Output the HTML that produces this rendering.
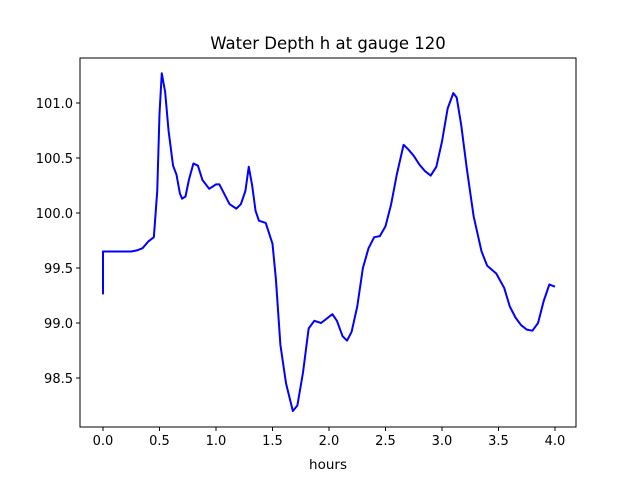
<!DOCTYPE html>
<html><head><meta charset="utf-8"><style>
body{margin:0;background:#fff;font-family:"DejaVu Sans","Liberation Sans",sans-serif;}
svg text{font-family:"DejaVu Sans","Liberation Sans",sans-serif;}
</style></head><body>
<svg id="chart" width="640" height="480" xmlns="http://www.w3.org/2000/svg">
<rect width="640" height="480" fill="#fff"/>
<text x="328" y="49" text-anchor="middle" font-size="16.5">Water Depth h at gauge 120</text>
<g id="plot"></g>
<text x="328" y="469" text-anchor="middle" font-size="13.5">hours</text>
</svg>
<script>
const hours=[0,0,0.1,0.2,0.25,0.3,0.35,0.4,0.45,0.48,0.5,0.52,0.55,0.58,0.62,0.65,0.68,0.7,0.73,0.76,0.8,0.84,0.88,0.94,1.0,1.03,1.07,1.12,1.18,1.22,1.26,1.29,1.32,1.35,1.38,1.44,1.5,1.53,1.57,1.62,1.68,1.72,1.77,1.82,1.87,1.93,2.03,2.07,2.12,2.16,2.2,2.25,2.3,2.35,2.4,2.45,2.5,2.55,2.6,2.66,2.7,2.75,2.8,2.85,2.9,2.95,3.0,3.05,3.1,3.13,3.17,3.22,3.28,3.35,3.4,3.48,3.55,3.6,3.65,3.7,3.75,3.8,3.85,3.9,3.95,4.0];
const depth=[99.26,99.65,99.65,99.65,99.65,99.66,99.68,99.74,99.78,100.2,100.9,101.27,101.1,100.75,100.43,100.35,100.18,100.13,100.15,100.3,100.45,100.43,100.3,100.22,100.26,100.26,100.18,100.08,100.04,100.08,100.2,100.42,100.25,100.02,99.93,99.91,99.72,99.4,98.8,98.45,98.2,98.25,98.55,98.95,99.02,99.0,99.08,99.02,98.88,98.84,98.92,99.15,99.5,99.68,99.78,99.79,99.88,100.08,100.35,100.62,100.58,100.52,100.44,100.38,100.34,100.42,100.65,100.95,101.09,101.05,100.8,100.4,99.97,99.65,99.52,99.45,99.32,99.15,99.05,98.98,98.94,98.93,99.0,99.2,99.35,99.33];
const xTicks=[0,0.5,1,1.5,2,2.5,3,3.5,4];
const xTickLabels=["0.0","0.5","1.0","1.5","2.0","2.5","3.0","3.5","4.0"];
const yTicks=[98.5,99,99.5,100,100.5,101];
const yTickLabels=["98.5","99.0","99.5","100.0","100.5","101.0"];
const L=80,R=576,T=58,B=427;
const xs=v=>103+v*113;
const ys=v=>103+(101-v)*110;
const NS="http://www.w3.org/2000/svg";
const g=document.getElementById('plot');
function mk(tag,attrs){const e=document.createElementNS(NS,tag);for(const k in attrs)e.setAttribute(k,attrs[k]);g.appendChild(e);return e;}
const pl=mk('polyline',{points:hours.map((h,i)=>xs(h)+','+ys(depth[i])).join(' '),fill:'none',stroke:'#0000ff','stroke-width':2,'stroke-linejoin':'round'});


const fr=mk('rect',{x:L,y:T,width:R-L,height:B-T,fill:'none',stroke:'#000','stroke-width':1});


xTicks.forEach((t,i)=>{
 const tk=mk('line',{x1:xs(t),x2:xs(t),y1:B,y2:B+4,stroke:'#000'});
 
 
 const tx=mk('text',{x:xs(t),y:B+18,'text-anchor':'middle','font-size':13});
 tx.textContent=xTickLabels[i];
 
 
});
yTicks.forEach((t,i)=>{
 const tk=mk('line',{x1:L-4,x2:L,y1:ys(t),y2:ys(t),stroke:'#000'});
 
 
 const tx=mk('text',{x:L-7,y:ys(t)+5,'text-anchor':'end','font-size':13});
 tx.textContent=yTickLabels[i];
 
 
});
</script>
</body></html>
